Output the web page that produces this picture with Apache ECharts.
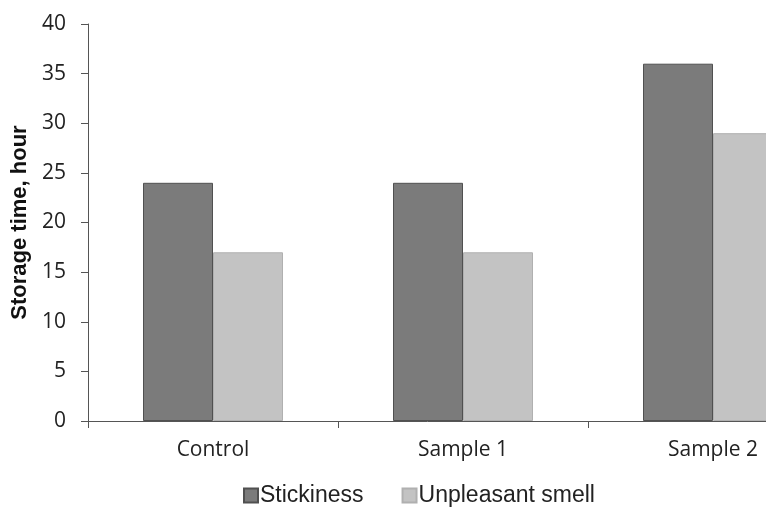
<!DOCTYPE html>
<html>
<head>
<meta charset="UTF-8">
<script src="https://cdn.jsdelivr.net/npm/echarts@6/dist/echarts.min.js"></script>
</head>
<body style="margin:0">
<div id="main" style="width:766px;height:516px;"></div>
<script>
const categories = ['Control', 'Sample 1', 'Sample 2'];
const stickiness = [24, 24, 36];
const smell = [17, 17, 29];

const chart = echarts.init(document.getElementById('main'), null, { renderer: 'canvas' });
chart.setOption({
  animation: false,
  backgroundColor: '#fff',
  // plot runs past the right edge, like the cropped original
  grid: { left: 88, width: 750, top: 24, height: 397, outerBoundsMode: 'none', containLabel: false },
  legend: {
    top: 479,
    left: 238,
    itemWidth: 14,
    itemHeight: 14,
    itemGap: 38,
    icon: 'rect',
    textStyle: { fontFamily: 'Liberation Sans', fontSize: 23, color: '#222', padding: [0, 0, 0, -3] },
    data: ['Stickiness', 'Unpleasant smell']
  },
  xAxis: {
    type: 'category',
    data: categories,
    axisLine: { lineStyle: { color: '#555', width: 1 } },
    axisTick: { show: true, length: 7, lineStyle: { color: '#555' } },
    axisLabel: { fontFamily: 'Open Sans', fontSize: 21, color: '#222', margin: 19 }
  },
  yAxis: {
    type: 'value',
    min: 0,
    max: 40,
    interval: 5,
    name: 'Storage time, hour',
    nameLocation: 'middle',
    nameGap: 57,
    nameTextStyle: { fontFamily: 'Liberation Sans', fontSize: 22, fontWeight: 'bold', color: '#111' },
    axisLine: { show: true, lineStyle: { color: '#555', width: 1 } },
    axisTick: { show: true, inside: false, length: 7, lineStyle: { color: '#555' } },
    splitLine: { show: false },
    axisLabel: { fontFamily: 'Open Sans', fontSize: 21, color: '#222', margin: 22 }
  },
  series: [
    {
      name: 'Stickiness',
      type: 'bar',
      data: stickiness,
      barWidth: 70,
      barGap: '0%',
      itemStyle: { color: '#7b7b7b', borderColor: '#505050', borderWidth: 1 }
    },
    {
      name: 'Unpleasant smell',
      type: 'bar',
      data: smell,
      barWidth: 70,
      barGap: '0%',
      itemStyle: { color: '#c3c3c3', borderColor: '#b0b0b0', borderWidth: 1 }
    }
  ]
});
</script>
</body>
</html>
